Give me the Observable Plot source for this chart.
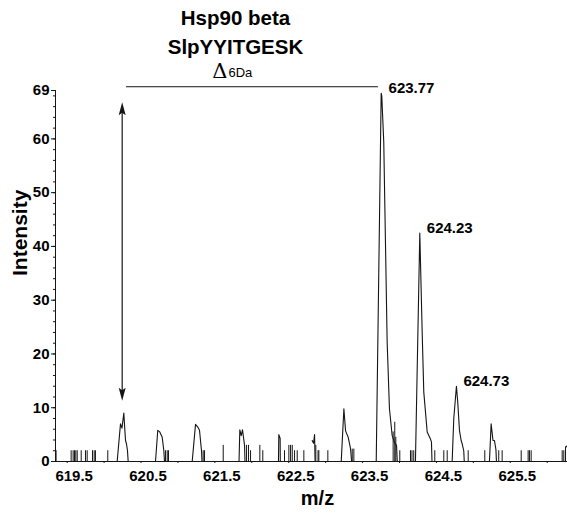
<!DOCTYPE html>
<html><head><meta charset="utf-8">
<script src="https://cdn.jsdelivr.net/npm/d3@7"></script>
<script src="https://cdn.jsdelivr.net/npm/@observablehq/plot@0.6"></script>
<style>body{margin:0;background:#fff} #chart svg{display:block}</style>
</head><body><div id="chart"></div>
<script>
// ---- data (m/z, intensity) ----
const xDomain = [619.342, 626.275];
const yDomain = [0, 69];
const xTickLabels = [619.5, 620.5, 621.5, 622.5, 623.5, 624.5, 625.5];
const xMinorTicks = [619.5, 620, 620.5, 621, 621.5, 622, 622.5, 623, 623.5, 624, 624.5, 625, 625.5, 626];
const yTicks = [0, 10, 20, 30, 40, 50, 60, 69];
const yMinorTicks = d3.range(2, 69, 2);

// profile traces of the isotope clusters
const profileLight1 = [[620.177,0],[620.222,7],[620.242,6.2],[620.267,9],[620.29,3.9],[620.303,3.3],[620.317,2],[620.326,0]];
const profileNoise2 = [[620.696,0],[620.727,5.8],[620.754,5.5],[620.787,4.5],[620.809,2],[620.818,0]];
const profileNoise3 = [[621.193,0],[621.238,6.9],[621.269,6.4],[621.292,5.8],[621.319,2],[621.326,0]];
const profileNoise4 = [[621.827,0],[621.838,5.9],[621.857,4.8],[621.874,5.9],[621.902,3],[621.908,0]];
const profileNoise5 = [[622.361,0],[622.366,5],[622.384,4.3],[622.386,0]];
const profileNoise6 = [[622.818,3.9],[622.836,3.4],[622.85,5.0],[622.857,0]];
const profileNoise7 = [[623.211,0],[623.247,9.8],[623.27,5.7],[623.29,5.0],[623.306,4.5],[623.337,2.4],[623.352,0]];
const profileHeavy1 = [[623.685,0],[623.752,68.5],[623.76,68],[623.787,59.4],[623.81,40.8],[623.833,22.2],[623.864,9.8],[623.901,4.8],[623.93,3.6],[623.96,3.0],[623.97,0]];
const profileHeavy2 = [[624.216,0],[624.275,42.5],[624.307,24.1],[624.329,12.9],[624.375,5.5],[624.419,4.2],[624.433,3.6],[624.44,0]];
const profileHeavy3 = [[624.713,0],[624.735,8],[624.771,14],[624.789,11],[624.812,5.8],[624.835,3.9],[624.849,3.3],[624.87,2],[624.877,0]];
const profileHeavy4 = [[625.218,0],[625.241,7],[625.266,3.9],[625.286,3.9],[625.306,2.2],[625.313,0]];
const profileEdge = [[626.255,2.7],[626.27,2.9]];

// centroid noise sticks
const noiseSticks = [
  [619.35,2],[619.554,2],[619.581,2],[619.599,2],[619.617,2],[619.636,2],[619.69,2],[619.748,2],[619.771,2],
  [619.843,2],[619.866,2],[619.883,2],[620.05,2],
  [620.832,2],[620.855,2],[620.872,2],
  [621.342,2],[621.36,2],[621.613,3],
  [621.929,3],[621.956,3],[621.983,2],[622.109,3],[622.149,2],
  [622.443,2],[622.502,3],[622.525,3],[622.548,3],[622.579,2],[622.615,2],[622.705,2],
  [622.867,3],[622.897,2],[622.908,2],[623.03,2],
  [623.36,2.3],[623.382,2.3],
  [623.914,5.5],[623.936,7.3],[623.95,4.5],[624.004,2],
  [624.149,2],[624.169,2],[624.193,2],[624.478,2],
  [624.6,2],[624.646,2],[624.93,2],[625.155,2],
  [625.344,2],[625.39,2],[625.648,2],[625.742,2],[625.76,2],[625.783,2],
  [626.203,2],[626.225,2],[626.248,2.7]
];

// peak annotations
const peakLabels = ["623.77", "624.23", "624.73"];
const peakLabelMz = [623.757, 624.275, 624.771];
const peakLabelInt = [68.5, 42.5, 14];

// delta annotation
const bracketStart = 620.303, bracketEnd = 623.715, bracketInt = 69.7;
const arrowMz = 620.245, arrowTop = 66.8, arrowBottom = 11.3;

// ---- build ----
const profiles = [profileLight1, profileNoise2, profileNoise3, profileNoise4, profileNoise5, profileNoise6,
  profileNoise7, profileHeavy1, profileHeavy2, profileHeavy3, profileHeavy4, profileEdge];
const profileTable = profiles.flatMap((p, i) => p.map(([mz, v]) => ({mz, v, seg: i})));
const labelTable = peakLabels.map((t, i) => ({t, mz: peakLabelMz[i], v: peakLabelInt[i]}));

const arrowUp = {draw(ctx) { ctx.moveTo(0, 0); ctx.lineTo(3.5, 13); ctx.lineTo(0, 10.5); ctx.lineTo(-3.5, 13); ctx.closePath(); }};
const arrowDown = {draw(ctx) { ctx.moveTo(0, 0); ctx.lineTo(3.5, -13); ctx.lineTo(0, -10.5); ctx.lineTo(-3.5, -13); ctx.closePath(); }};

const ink = "#151515";
const sans = "'Liberation Sans', Arial, Helvetica, sans-serif";

const chart = Plot.plot({
  width: 567,
  height: 513,
  marginTop: 90,
  marginBottom: 52,
  marginLeft: 55,
  marginRight: 0,
  style: {fontFamily: sans, color: "#000", background: "#fff"},
  x: {domain: xDomain},
  y: {domain: yDomain},
  marks: [
    // axes
    Plot.axisY({ticks: yMinorTicks, tickSize: 2, tickFormat: () => "", label: null, stroke: ink}),
    Plot.axisY({ticks: yTicks, tickSize: 4, tickPadding: 2, fontSize: 15, fontWeight: "bold", label: null, stroke: ink}),
    Plot.axisX({ticks: xMinorTicks, tickSize: 2, tickFormat: () => "", label: null, stroke: ink}),
    Plot.axisX({ticks: xTickLabels, tickSize: 0, tickPadding: 9, dx: 7, fontSize: 15, fontWeight: "bold", label: null, tickFormat: d => d.toFixed(1)}),
    Plot.ruleY([yDomain[0]], {stroke: ink, strokeWidth: 1}),
    Plot.ruleX([xDomain[0]], {stroke: ink, strokeWidth: 1}),
    // spectrum
    Plot.ruleX(noiseSticks, {x: d => d[0], y1: 0, y2: d => d[1], stroke: ink, strokeWidth: 1}),
    Plot.line(profileTable, {x: "mz", y: "v", z: "seg", stroke: ink, strokeWidth: 1.1, curve: "linear"}),
    // peak labels
    Plot.text(labelTable, {x: "mz", y: "v", text: "t", textAnchor: "start", dx: 7, dy: -5, fontSize: 15, fontWeight: "bold", fill: "#000"}),
    // delta bracket and double arrow
    Plot.ruleY([bracketInt], {x1: bracketStart, x2: bracketEnd, stroke: ink, strokeWidth: 1}),
    Plot.ruleX([arrowMz], {y1: arrowBottom + 1.5, y2: arrowTop - 1.5, stroke: ink, strokeWidth: 1.2}),
    Plot.dot([[arrowMz, arrowTop]], {x: d => d[0], y: d => d[1], symbol: arrowUp, fill: ink, stroke: "none"}),
    Plot.dot([[arrowMz, arrowBottom]], {x: d => d[0], y: d => d[1], symbol: arrowDown, fill: ink, stroke: "none"}),
    // titles
    Plot.text(["Hsp90 beta"], {frameAnchor: "top", lineAnchor: "middle", dx: -76, dy: -72, fontSize: 20.5, fontWeight: "bold", fill: "#000"}),
    Plot.text(["SlpYYITGESK"], {frameAnchor: "top", lineAnchor: "middle", dx: -76, dy: -43, fontSize: 20.5, fontWeight: "bold", fill: "#000"}),
    Plot.text(["Δ"], {frameAnchor: "top", lineAnchor: "middle", textAnchor: "end", dx: -84, dy: -19.5, fontSize: 21, fontWeight: "normal", fontFamily: "'DejaVu Serif', serif", fill: "#000"}),
    Plot.text(["6Da"], {frameAnchor: "top", lineAnchor: "middle", textAnchor: "start", dx: -83, dy: -17.2, fontSize: 13, fontWeight: "normal", fill: "#000"}),
    // axis labels
    Plot.text(["Intensity"], {frameAnchor: "left", lineAnchor: "middle", rotate: -90, dx: -35, fontSize: 21, fontWeight: "bold", fill: "#000"}),
    Plot.text(["m/z"], {frameAnchor: "bottom", lineAnchor: "middle", dx: 6, dy: 37.5, fontSize: 20, fontWeight: "bold", fill: "#000"})
  ]
});
document.getElementById("chart").appendChild(chart);
</script>
</body></html>
